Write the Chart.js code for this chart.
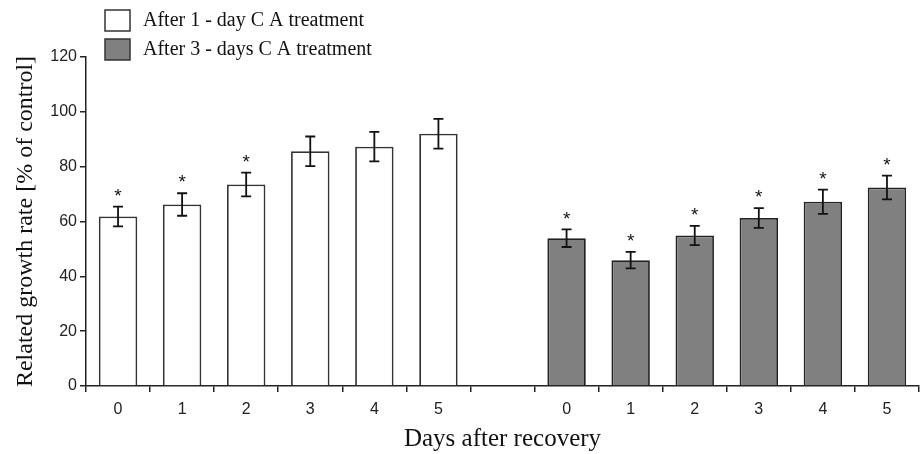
<!DOCTYPE html>
<html lang="en">
<head>
    <meta charset="UTF-8">
    <title>Related growth rate after recovery</title>
    <script src="https://cdn.jsdelivr.net/npm/chart.js"></script>
    <style>
        html, body { margin: 0; padding: 0; background: #fff; }
        #wrap { width: 922px; height: 454px; }
    </style>
</head>
<body>
    <div id="wrap"><canvas id="growthChart"></canvas></div>

    <script>
        // Data
        const days = ['0', '1', '2', '3', '4', '5'];
        const oneDayValues = [61.8, 66.2, 73.5, 85.6, 87.3, 92.0];
        const oneDayErrors = [3.6, 4.1, 4.3, 5.4, 5.4, 5.4];
        const oneDaySignificant = [true, true, true, false, false, false];
        const threeDayValues = [53.9, 45.9, 54.9, 61.3, 67.2, 72.4];
        const threeDayErrors = [3.2, 3.0, 3.5, 3.6, 4.4, 4.3];
        const threeDaySignificant = [true, true, true, true, true, true];
        const yTicks = [0, 20, 40, 60, 80, 100, 120];

        // 13 slots: first group, an empty gap, second group
        const labels = [...days, '', ...days];
        const gap = days.map(() => null);
        const oneDayData = [...oneDayValues, null, ...gap];
        const threeDayData = [...gap, null, ...threeDayValues];
        const errorsBySet = [[...oneDayErrors, null, ...gap], [...gap, null, ...threeDayErrors]];
        const starsBySet = [[...oneDaySignificant, false, ...gap], [...gap, false, ...threeDaySignificant]];

        const serif = '"Liberation Serif", "DejaVu Serif", serif';
        const sans = '"Liberation Sans", Arial, sans-serif';
        const ink = '#222';

        // error bars and asterisks
        const errorBars = {
            id: 'errorBars',
            afterDatasetsDraw(chart) {
                const ctx = chart.ctx;
                const y = chart.scales.y;
                ctx.save();
                ctx.strokeStyle = '#111';
                ctx.lineWidth = 1.8;
                chart.data.datasets.forEach((ds, i) => {
                    chart.getDatasetMeta(i).data.forEach((bar, j) => {
                        const v = ds.data[j];
                        const e = errorsBySet[i][j];
                        if (v === null || e === null) return;
                        const top = y.getPixelForValue(v + e);
                        const bot = y.getPixelForValue(v - e);
                        const cap = 5;
                        ctx.beginPath();
                        ctx.moveTo(bar.x, top); ctx.lineTo(bar.x, bot);
                        ctx.moveTo(bar.x - cap, top); ctx.lineTo(bar.x + cap, top);
                        ctx.moveTo(bar.x - cap, bot); ctx.lineTo(bar.x + cap, bot);
                        ctx.stroke();
                        if (starsBySet[i][j]) {
                            ctx.fillStyle = '#111';
                            ctx.font = '19px ' + sans;
                            ctx.textAlign = 'center';
                            ctx.textBaseline = 'middle';
                            ctx.fillText('*', bar.x, top - 10);
                        }
                    });
                });
                ctx.restore();
            }
        };

        // legend stacked at the top left, above the plot
        const boxLegend = {
            id: 'boxLegend',
            afterDraw(chart) {
                const ctx = chart.ctx;
                ctx.save();
                chart.data.datasets.forEach((ds, i) => {
                    const top = 10 + i * 29;
                    ctx.fillStyle = ds.backgroundColor;
                    ctx.fillRect(105, top, 25, 21);
                    ctx.strokeStyle = '#333';
                    ctx.lineWidth = 1.5;
                    ctx.strokeRect(105, top, 25, 21);
                    ctx.fillStyle = '#111';
                    ctx.font = '20px ' + serif;
                    ctx.textAlign = 'left';
                    ctx.textBaseline = 'middle';
                    ctx.fillText(ds.label, 143, top + 11);
                });
                ctx.restore();
            }
        };

        new Chart(document.getElementById('growthChart'), {
            type: 'bar',
            data: {
                labels: labels,
                datasets: [{
                    label: 'After 1 - day C A treatment',
                    data: oneDayData,
                    backgroundColor: '#ffffff',
                    borderColor: '#333',
                    borderWidth: 1.8,
                    grouped: false,
                    categoryPercentage: 1,
                    barPercentage: 0.6
                }, {
                    label: 'After 3 - days C A treatment',
                    data: threeDayData,
                    backgroundColor: '#808080',
                    borderColor: '#222',
                    borderWidth: 1.8,
                    grouped: false,
                    categoryPercentage: 1,
                    barPercentage: 0.6
                }]
            },
            options: {
                responsive: true,
                maintainAspectRatio: false,
                animation: false,
                layout: { padding: { top: 57, right: 3, left: 0, bottom: 0 } },
                plugins: {
                    legend: { display: false },
                    tooltip: { enabled: false }
                },
                scales: {
                    x: {
                        afterFit(axis) { axis.height = 68; },
                        grid: {
                            display: true,
                            offset: true,
                            drawOnChartArea: false,
                            drawTicks: true,
                            tickLength: 6,
                            color: ink,
                            lineWidth: 1.5
                        },
                        border: { display: true, color: ink, width: 1.5 },
                        ticks: {
                            color: ink,
                            font: { family: sans, size: 16 },
                            padding: 8,
                            maxRotation: 0,
                            autoSkip: false
                        },
                        title: {
                            display: true,
                            text: 'Days after recovery',
                            color: '#111',
                            font: { family: serif, size: 25 },
                            padding: { top: 0, bottom: 0 }
                        }
                    },
                    y: {
                        min: 0,
                        max: 120,
                        afterFit(axis) { axis.width = 86; },
                        afterBuildTicks(axis) {
                            axis.ticks = yTicks.map(v => ({ value: v }));
                        },
                        grid: {
                            drawOnChartArea: false,
                            drawTicks: true,
                            tickLength: 6,
                            color: ink,
                            lineWidth: 1.5
                        },
                        border: { display: true, color: ink, width: 1.5 },
                        ticks: {
                            color: ink,
                            font: { family: sans, size: 16 },
                            padding: 3
                        },
                        title: {
                            display: true,
                            text: 'Related growth rate [% of control]',
                            color: '#111',
                            font: { family: serif, size: 24 },
                            padding: { top: 11, bottom: 0 }
                        }
                    }
                }
            },
            plugins: [errorBars, boxLegend]
        });
    </script>
</body>
</html>
